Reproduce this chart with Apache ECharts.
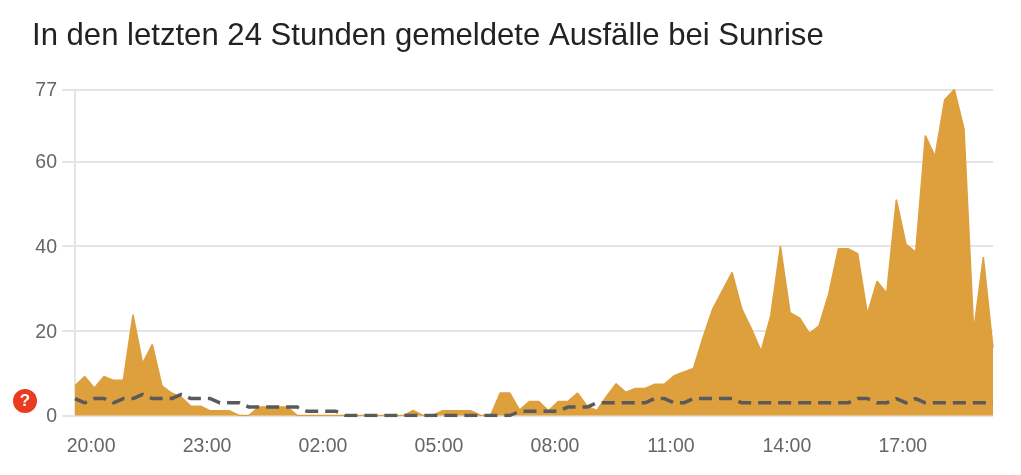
<!DOCTYPE html>
<html><head><meta charset="utf-8">
<style>html,body{margin:0;padding:0;background:#fff}#c{width:1021px;height:475px}</style>
<script src="https://cdn.jsdelivr.net/npm/echarts@6/dist/echarts.min.js"></script>
</head><body><div id="c"></div>
<script>
const titleText = 'In den letzten 24 Stunden gemeldete Ausfälle bei Sunrise';
const startMinute = 1175; // 19:35
const stepMinutes = 15;
const reports = [7,9.2,6.5,9.2,8.3,8.3,23.8,12.3,16.8,7,5.3,4.3,2.2,2.2,1.1,1.1,1.1,0,0,2,2,2,2,0,0,0,0,0,0,0,0,0,0,0,0,1.2,0,0,1.1,1.1,1.1,1.1,0,0,5.3,5.3,1.3,3.3,3.3,1.1,3.3,3.3,5.3,2.2,1.2,4.5,7.5,5.5,6.4,6.4,7.4,7.4,9.4,10.3,11.1,18.5,25.2,29.5,33.8,25.2,20.5,15.2,23.6,40,24.3,23,19.4,21.2,28.7,39.4,39.4,38.2,24,31.7,28.9,51,40.4,38.6,66.1,61.2,74.6,77,67.7,20,37.4,16];
const baseline = [4,3,4,4,3,4,4,5,4,4,4,5,4,4,4,3,3,3,2,2,2,2,2,2,1,1,1,1,0,0,0,0,0,0,0,0,0,0,0,0,0,0,0,0,0,0,1,1,1,1,1,2,2,2,3,3,3,3,3,3,4,4,3,3,4,4,4,4,4,3,3,3,3,3,3,3,3,3,3,3,3,4,4,3,3,4,3,4,3,3,3,3,3,3,3,3];
const tickMinutes = [1200,1380,1560,1740,1920,2100,2280,2460];
const tickLabels = ['20:00','23:00','02:00','05:00','08:00','11:00','14:00','17:00'];

const xs = reports.map((_, i) => startMinute + i * stepMinutes);
const chart = echarts.init(document.getElementById('c'), null, {renderer:'canvas'});
chart.setOption({
  animation:false,
  backgroundColor:'#fff',
  title:{text:titleText,left:32,top:21,padding:0,textStyle:{fontFamily:'Liberation Sans',fontSize:31.1,fontWeight:'normal',color:'#222'}},
  grid:{left:75,right:28,top:89.5,bottom:59.5,containLabel:false},
  xAxis:{type:'value',min:startMinute,max:startMinute+95*stepMinutes,
    axisLine:{show:false},axisTick:{show:false},splitLine:{show:false},
    axisLabel:{customValues:tickMinutes,formatter:v=>tickLabels[tickMinutes.indexOf(v)],color:'#666',fontFamily:'Liberation Sans',fontSize:19.5,margin:21,hideOverlap:false}},
  yAxis:{type:'value',min:0,max:77,interval:20,
    axisLine:{show:true,onZero:false,lineStyle:{color:'#e4e4e4',width:2}},
    axisTick:{show:true,length:13,lineStyle:{color:'#e4e4e4',width:2}},
    splitLine:{show:true,lineStyle:{color:'#e4e4e4',width:2}},
    axisLabel:{color:'#666',fontFamily:'Liberation Sans',fontSize:19.5,margin:18,
      formatter:'{v|{value}}',rich:{v:{color:'#666',fontFamily:'Liberation Sans',fontSize:19.5,padding:[3,0,0,0]}}}},
  series:[
    {type:'line',data:xs.map((x,i)=>[x,reports[i]]),showSymbol:false,z:2,
     lineStyle:{width:1.5,color:'#de9f3d'},areaStyle:{color:'#de9f3d',opacity:1}},
    {type:'line',data:xs.map((x,i)=>[x,baseline[i]]),showSymbol:false,z:3,
     lineStyle:{width:3.5,color:'#5a5a5a',type:[13,7]}}
  ],
  graphic:[
    {type:'circle',shape:{cx:25,cy:401,r:12},style:{fill:'#ea3a1f'},z:10},
    {type:'text',style:{x:25,y:401,text:'?',fill:'#fff',font:'bold 17px "Liberation Sans"',align:'center',verticalAlign:'middle'},z:11}
  ]
});
</script></body></html>
